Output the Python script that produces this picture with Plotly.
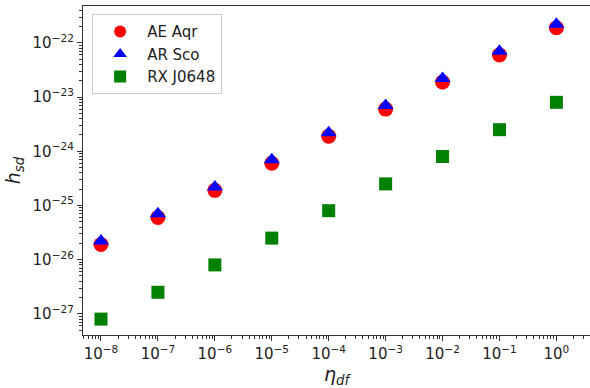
import plotly.graph_objects as go
import numpy as np

eta = [1e-8, 1e-7, 1e-6, 1e-5, 1e-4, 1e-3, 1e-2, 1e-1, 1e0]
ae_aqr = [1.9e-26, 6.0e-26, 1.9e-25, 6.0e-25, 1.9e-24, 6.0e-24, 1.9e-23, 6.0e-23, 1.9e-22]
ar_sco = [2.2e-26, 7.0e-26, 2.2e-25, 7.0e-25, 2.2e-24, 7.0e-24, 2.2e-23, 7.0e-23, 2.2e-22]
rx_j0648 = [8.0e-28, 2.5e-27, 8.0e-27, 2.5e-26, 8.0e-26, 2.5e-25, 8.0e-25, 2.5e-24, 8.0e-24]

x_exps = [-8, -7, -6, -5, -4, -3, -2, -1, 0]
y_exps = [-27, -26, -25, -24, -23, -22]

def lab(e):
    s = str(e).replace("-", "\u2212")
    return f"10<sup>{s}</sup>"

def minors(lo, hi):
    out = []
    for d in range(lo, hi + 1):
        for m in range(2, 10):
            out.append(m * 10.0 ** d)
    return out

fig = go.Figure()
fig.add_trace(go.Scatter(x=eta, y=ae_aqr, mode="markers", name="AE Aqr",
                         marker=dict(symbol="circle", size=15, color="red", line=dict(width=0))))
fig.add_trace(go.Scatter(x=eta, y=ar_sco, mode="markers", name="AR Sco",
                         marker=dict(symbol="triangle-up", size=14, color="blue", line=dict(width=0))))
fig.add_trace(go.Scatter(x=eta, y=rx_j0648, mode="markers", name="RX J0648",
                         marker=dict(symbol="square", size=13, color="green", line=dict(width=0))))

axis_common = dict(type="log", showgrid=False, zeroline=False, showline=True,
                   linecolor="#333", linewidth=1.3, ticks="outside", ticklen=5,
                   tickcolor="#333", tickwidth=1,
                   tickfont=dict(family="DejaVu Sans", size=15, color="#222"))

fig.update_xaxes(**axis_common, range=[-8.316, 0.59], mirror=True,
                 tickvals=[10.0 ** e for e in x_exps], ticktext=[lab(e) for e in x_exps],
                 minor=dict(tickvals=minors(-9, 0), ticks="outside", ticklen=3, tickcolor="#333"),
                 title=dict(text="<i>η</i><sub><i>df</i></sub>", font=dict(family="DejaVu Sans", size=19, color="#222"), standoff=2))
fig.update_yaxes(**axis_common, range=[-27.39, -21.32],
                 tickvals=[10.0 ** e for e in y_exps], ticktext=[lab(e) for e in y_exps],
                 minor=dict(tickvals=minors(-28, -22), ticks="outside", ticklen=3, tickcolor="#333"),
                 title=dict(text="<i>h</i><sub><i>sd</i></sub>", font=dict(family="DejaVu Sans", size=19, color="#222"), standoff=6))

fig.update_layout(width=590, height=388, margin=dict(l=83, r=0, t=6, b=53),
                  plot_bgcolor="white", paper_bgcolor="white",
                  legend=dict(x=0.018, y=0.975, xanchor="left", yanchor="top",
                              bgcolor="rgba(255,255,255,0.8)", bordercolor="#ccc", borderwidth=1,
                              font=dict(family="DejaVu Sans", size=15, color="#222"),
                              itemsizing="constant", itemwidth=44),
                  showlegend=True)

fig.write_html("out.html")
